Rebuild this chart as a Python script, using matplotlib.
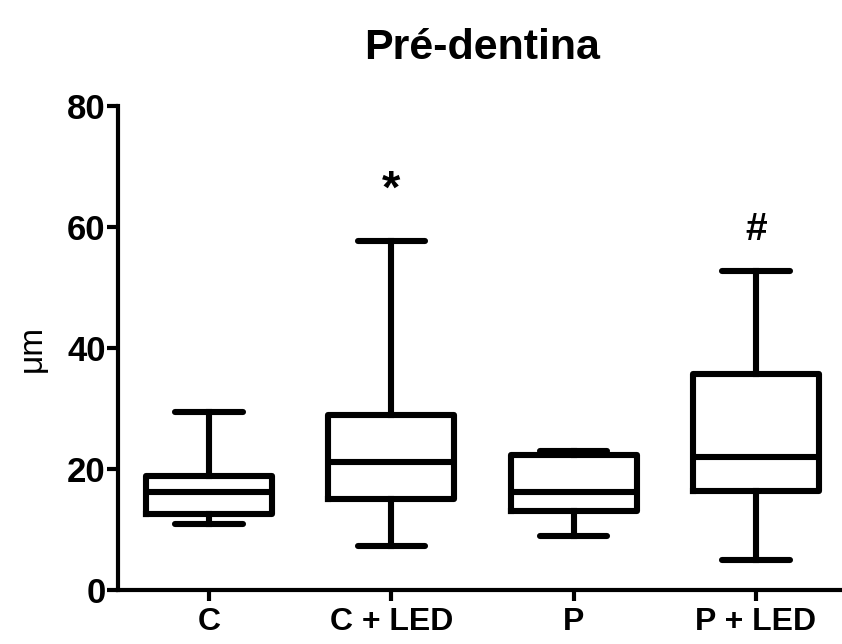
#!/usr/bin/env python3
"""Box plot of pre-dentin thickness per group (Prism-style)."""

import matplotlib
matplotlib.use('Agg')
import matplotlib.pyplot as plt

# ---------------------------------------------------------------------------
# Data
# ---------------------------------------------------------------------------
groups = ['C', 'C + LED', 'P', 'P + LED']
whisker_low = [10.9, 7.3, 8.9, 5.0]
q1 = [12.6, 15.0, 13.1, 16.4]
median = [16.2, 21.2, 16.2, 22.0]
q3 = [18.8, 28.9, 22.3, 35.7]
whisker_high = [29.4, 57.7, 23.0, 52.7]

marks = ['', '*', '', '#']
mark_y = [0, 66.0, 0, 59.5]

yticks = [0, 20, 40, 60, 80]

# ---------------------------------------------------------------------------
# Plot
# ---------------------------------------------------------------------------
plt.rcParams['font.family'] = ['Liberation Sans', 'DejaVu Sans']

W, H = 842, 644
fig = plt.figure(figsize=(W / 100, H / 100), dpi=100)
ax = fig.add_axes([118 / W, 54 / H, (847 - 118) / W, (538 - 54) / H])

stats = []
for i, g in enumerate(groups):
    stats.append(dict(label=g, whislo=whisker_low[i], q1=q1[i], med=median[i],
                      q3=q3[i], whishi=whisker_high[i], fliers=[]))

lw = 4.4
ax.bxp(stats, positions=range(1, len(groups) + 1), widths=0.69,
       capwidths=0.37, showfliers=False,
       boxprops=dict(color='black', linewidth=lw, solid_joinstyle='round'),
       medianprops=dict(color='black', linewidth=lw, solid_capstyle='butt'),
       whiskerprops=dict(color='black', linewidth=lw),
       capprops=dict(color='black', linewidth=lw, solid_capstyle='round'))

mark_size = {'*': 34, '#': 28}
for i, m in enumerate(marks):
    if m:
        ax.text(i + 1, mark_y[i], m, ha='center', va='center',
                fontsize=mark_size[m], fontweight='bold')

ax.set_xlim(0.5, 4.5)
ax.set_ylim(0, 80)
ax.set_yticks(yticks)
ax.set_yticklabels([str(v) for v in yticks], fontsize=25, fontweight='bold')
ax.set_xticks(range(1, len(groups) + 1))
ax.set_xticklabels(groups, fontsize=23, fontweight='bold')

for side in ('top', 'right'):
    ax.spines[side].set_visible(False)
for side in ('left', 'bottom'):
    ax.spines[side].set_linewidth(3.0)
    ax.spines[side].set_capstyle('projecting')

ax.tick_params(axis='both', direction='out', length=8, width=3.0,
               colors='black', pad=4)
ax.tick_params(axis='y', pad=1)

ax.set_ylabel('\u03bcm', fontsize=24, labelpad=14)
ax.set_title('Pré-dentina', fontsize=31, fontweight='bold', pad=34)

fig.savefig('out.png', dpi=100)
